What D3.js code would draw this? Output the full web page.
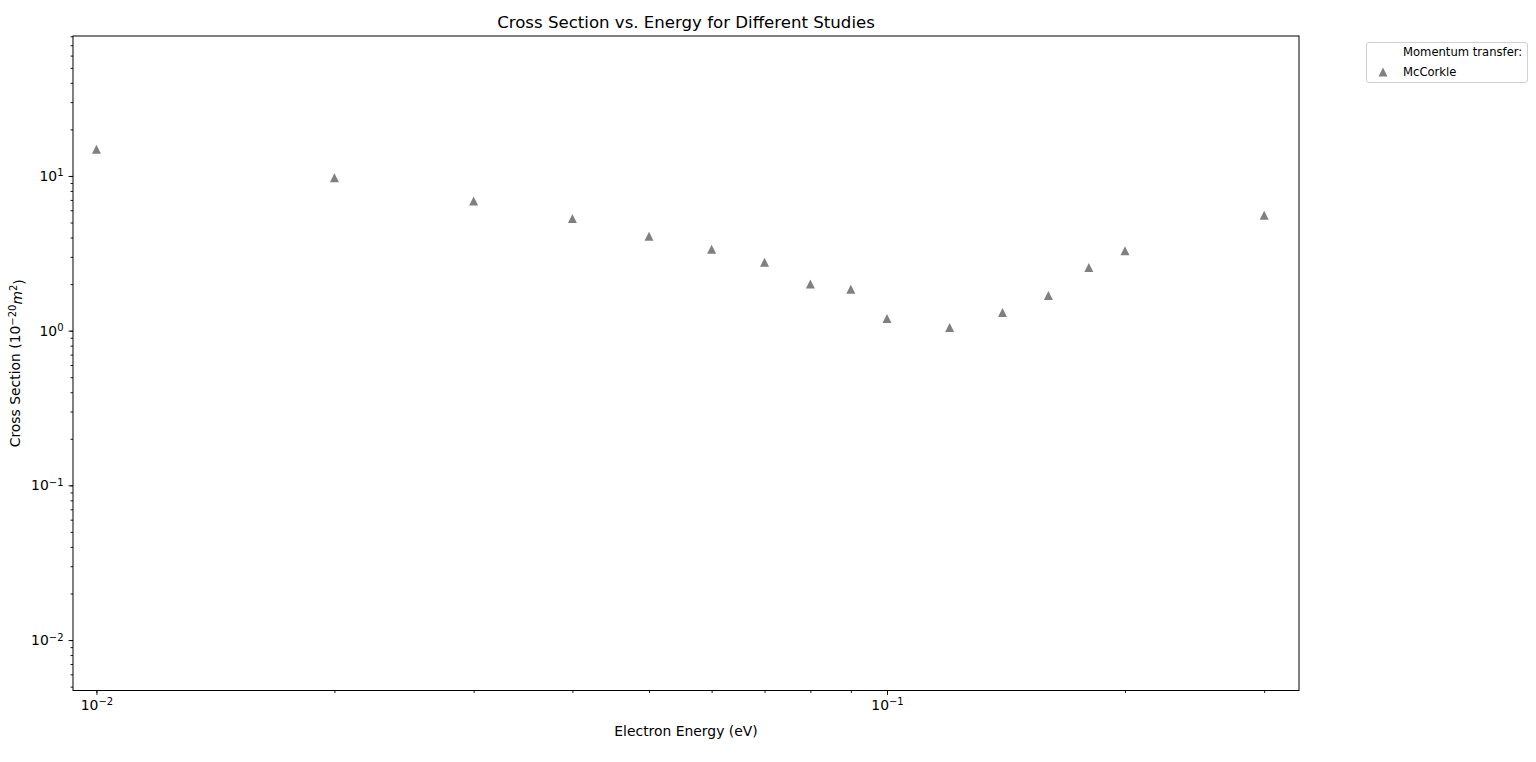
<!DOCTYPE html>
<html>
<head>
<meta charset="utf-8">
<script src="https://cdn.jsdelivr.net/npm/d3@7"></script>
<style>
  html, body { margin: 0; padding: 0; background: #fff; }
  svg { display: block; font-family: "DejaVu Sans", sans-serif; }
</style>
</head>
<body>
<svg id="chart" width="1536" height="762"></svg>
<script>
// Data
const energies = [0.01, 0.02, 0.03, 0.04, 0.05, 0.06, 0.07, 0.08, 0.09, 0.1, 0.12, 0.14, 0.16, 0.18, 0.2, 0.3];
const crossSections = [14.9, 9.75, 6.88, 5.3, 4.08, 3.36, 2.77, 2.0, 1.85, 1.2, 1.05, 1.31, 1.69, 2.56, 3.29, 5.57];
const seriesName = "McCorkle";
const legendTitle = "Momentum transfer:";
const xDomain = [0.00934, 0.332];
const yDomain = [0.00472, 80.3];
const xMajorTicks = [0.01, 0.1];
const yMajorTicks = [0.01, 0.1, 1, 10];

const svg = d3.select("#chart");
const m = { left: 73, right: 1299, top: 36, bottom: 690.5 };
const FS = 13.9;

const x = d3.scaleLog().domain(xDomain).range([m.left, m.right]);
const y = d3.scaleLog().domain(yDomain).range([m.bottom, m.top]);

function minorTicks(scale) {
  const [a, b] = scale.domain();
  const out = [];
  for (let e = Math.floor(Math.log10(a)) ; e <= Math.ceil(Math.log10(b)); e++) {
    for (let k = 1; k <= 9; k++) {
      const v = k * Math.pow(10, e);
      if (v >= a && v <= b) out.push(v);
    }
  }
  return out;
}
function expOf(v) { return Math.round(Math.log10(v)); }
function superLabel(sel) {
  sel.each(function(d) {
    const t = d3.select(this);
    t.text(null);
    t.append("tspan").text("10");
    const e = expOf(d);
    t.append("tspan").attr("dy", "-0.45em").attr("font-size", "0.72em").text(e < 0 ? "\u2212" + (-e) : String(e));
  });
}

// X axis
const gx = svg.append("g").attr("transform", `translate(0,${m.bottom})`);
gx.call(d3.axisBottom(x).tickValues(minorTicks(x)).tickSize(2.5).tickFormat(""));
gx.append("g").call(d3.axisBottom(x).tickValues(xMajorTicks).tickSize(4.5).tickPadding(5))
  .call(g => g.selectAll("text").attr("font-size", FS).attr("fill", "#000").call(superLabel));
gx.selectAll(".domain").remove();
gx.selectAll("line").attr("stroke", "#000").attr("stroke-width", 0.9);
gx.selectAll("text").attr("font-family", "DejaVu Sans");

// Y axis
const gy = svg.append("g").attr("transform", `translate(${m.left},0)`);
gy.call(d3.axisLeft(y).tickValues(minorTicks(y)).tickSize(2.5).tickFormat(""));
gy.append("g").call(d3.axisLeft(y).tickValues(yMajorTicks).tickSize(4.5).tickPadding(5))
  .call(g => g.selectAll("text").attr("font-size", FS).attr("fill", "#000").call(superLabel));
gy.selectAll(".domain").remove();
gy.selectAll("line").attr("stroke", "#000").attr("stroke-width", 0.9);
gy.selectAll("text").attr("font-family", "DejaVu Sans");

// Frame
svg.append("rect")
  .attr("x", m.left).attr("y", m.top)
  .attr("width", m.right - m.left).attr("height", m.bottom - m.top)
  .attr("fill", "none").attr("stroke", "#000").attr("stroke-width", 1);

// Markers
const tri = "M0,-4.5L-4.5,4.5L4.5,4.5Z";
svg.append("g").selectAll("path").data(energies).join("path")
  .attr("d", tri)
  .attr("transform", (d, i) => `translate(${x(d)},${y(crossSections[i])})`)
  .attr("fill", "#808080");

// Title
svg.append("text").attr("x", (m.left + m.right) / 2).attr("y", 28)
  .attr("text-anchor", "middle").attr("font-size", 16.6).attr("fill", "#000")
  .text("Cross Section vs. Energy for Different Studies");

// X label
svg.append("text").attr("x", (m.left + m.right) / 2).attr("y", 736)
  .attr("text-anchor", "middle").attr("font-size", FS).attr("fill", "#000")
  .text("Electron Energy (eV)");

// Y label
const yl = svg.append("text")
  .attr("transform", `translate(20,${(m.top + m.bottom) / 2}) rotate(-90)`)
  .attr("text-anchor", "middle").attr("font-size", FS).attr("fill", "#000");
yl.append("tspan").text("Cross Section (10");
yl.append("tspan").attr("dy", "-0.45em").attr("font-size", "0.72em").text("\u221220");
yl.append("tspan").attr("dy", "0.45em").attr("font-style", "italic").text("m");
yl.append("tspan").attr("dy", "-0.45em").attr("font-size", "0.72em").text("2");
yl.append("tspan").attr("dy", "0.45em").text(")");

// Legend
const lg = svg.append("g");
lg.append("rect").attr("x", 1366.5).attr("y", 42.5).attr("width", 161).attr("height", 40)
  .attr("rx", 2.5).attr("fill", "#fff").attr("stroke", "#d0d0d0").attr("stroke-width", 1);
lg.append("text").attr("x", 1403).attr("y", 56).attr("font-size", 11.6).attr("fill", "#000").text(legendTitle);
lg.append("path").attr("d", tri).attr("transform", "translate(1383,72)").attr("fill", "#808080");
lg.append("text").attr("x", 1403).attr("y", 76).attr("font-size", 11.6).attr("fill", "#000").text(seriesName);
</script>
</body>
</html>
